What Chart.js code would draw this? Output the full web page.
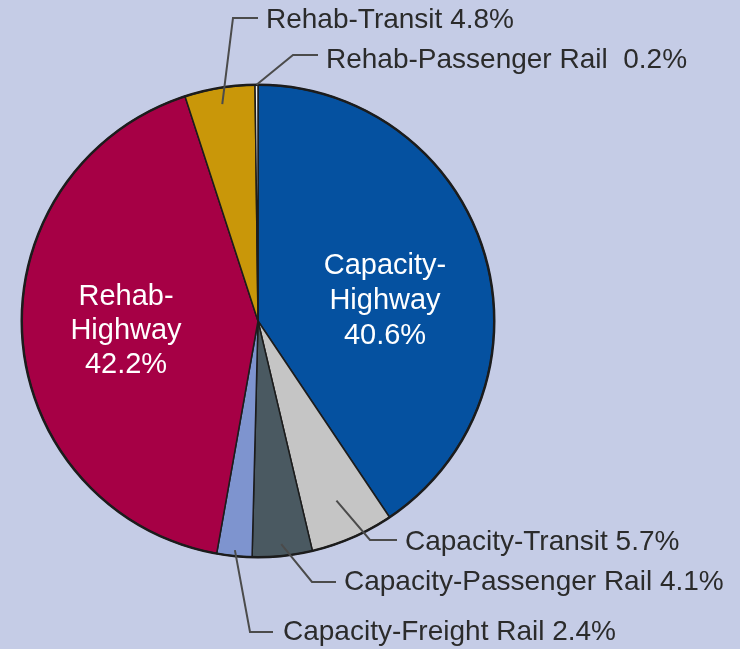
<!DOCTYPE html>
<html>
<head>
<meta charset="utf-8">
<script src="https://cdn.jsdelivr.net/npm/chart.js@4.4.0/dist/chart.umd.min.js"></script>
<style>
  html, body { margin: 0; padding: 0; background: #c5cce6; }
  #wrap { width: 740px; height: 649px; position: relative; }
</style>
</head>
<body>
<div id="wrap"><canvas id="pieChart"></canvas></div>
<script>
// slices, clockwise from 12 o'clock
const categories = ['Capacity-Highway', 'Capacity-Transit', 'Capacity-Passenger Rail', 'Capacity-Freight Rail',
    'Rehab-Highway', 'Rehab-Transit', 'Rehab-Passenger Rail'];
const shares = [40.6, 5.7, 4.1, 2.4, 42.2, 4.8, 0.2];
const sliceColors = ['#0551a0', '#c5c5c5', '#4a5961', '#7e94cf', '#a60045', '#c99709', '#f2f2f2'];

// labels written inside the big slices
const insideLabels = {
    0: { x: 385, ys: [266, 301, 336], lines: ['Capacity-', 'Highway', shares[0].toFixed(1) + '%'] },
    4: { x: 126, ys: [297, 331, 365], lines: ['Rehab-', 'Highway', shares[4].toFixed(1) + '%'] }
};

// callouts: where the leader starts (fraction of radius), elbow, end, text spot
const callouts = {
    1: { r: 0.83, elbow: [370, 540], end: [397, 540], text: [405, 542], gap: ' ' },
    2: { r: 0.95, elbow: [312, 582], end: [336, 582], text: [344, 582], gap: ' ' },
    3: { r: 0.975, elbow: [250, 632], end: [273, 632], text: [283, 632], gap: ' ' },
    5: { r: 0.93, elbow: [233, 18], end: [258, 18], text: [266, 20], gap: ' ' },
    6: { r: 1.0, elbow: [293, 55], end: [318, 55], text: [326, 60], gap: '  ' }
};

const pieLabels = {
    id: 'pieLabels',
    afterDatasetsDraw(chart) {
        const ctx = chart.ctx;
        const arcs = chart.getDatasetMeta(0).data;
        const first = arcs[0];
        ctx.save();

        // heavier outline around the whole pie
        ctx.beginPath();
        ctx.arc(first.x, first.y, first.outerRadius, 0, Math.PI * 2);
        ctx.lineWidth = 2.5;
        ctx.strokeStyle = '#1c1c1c';
        ctx.stroke();

        ctx.textBaseline = 'middle';

        Object.keys(insideLabels).forEach(k => {
            const lab = insideLabels[k];
            ctx.fillStyle = '#ffffff';
            ctx.font = '29px "Liberation Sans", Arial, sans-serif';
            ctx.textAlign = 'center';
            lab.lines.forEach((t, i) => ctx.fillText(t, lab.x, lab.ys[i]));
        });

        Object.keys(callouts).forEach(k => {
            const c = callouts[k];
            const arc = arcs[k];
            const mid = (arc.startAngle + arc.endAngle) / 2;
            const sx = arc.x + Math.cos(mid) * arc.outerRadius * c.r;
            const sy = arc.y + Math.sin(mid) * arc.outerRadius * c.r;
            ctx.beginPath();
            ctx.moveTo(sx, sy);
            ctx.lineTo(c.elbow[0], c.elbow[1]);
            ctx.lineTo(c.end[0], c.end[1]);
            ctx.lineWidth = 2;
            ctx.strokeStyle = '#4b4b4b';
            ctx.stroke();

            ctx.fillStyle = '#2b2b2b';
            ctx.font = '28px "Liberation Sans", Arial, sans-serif';
            ctx.textAlign = 'left';
            ctx.fillText(categories[k] + c.gap + shares[k].toFixed(1) + '%', c.text[0], c.text[1]);
        });
        ctx.restore();
    }
};

new Chart(document.getElementById('pieChart').getContext('2d'), {
    type: 'pie',
    data: {
        labels: categories,
        datasets: [{
            data: shares,
            backgroundColor: sliceColors,
            borderColor: '#1c1c1c',
            borderWidth: 1.5
        }]
    },
    options: {
        responsive: true,
        maintainAspectRatio: false,
        animation: false,
        layout: { padding: { left: 21, top: 84, right: 245, bottom: 91 } },
        plugins: {
            legend: { display: false },
            tooltip: { enabled: false }
        }
    },
    plugins: [pieLabels]
});
</script>
</body>
</html>
